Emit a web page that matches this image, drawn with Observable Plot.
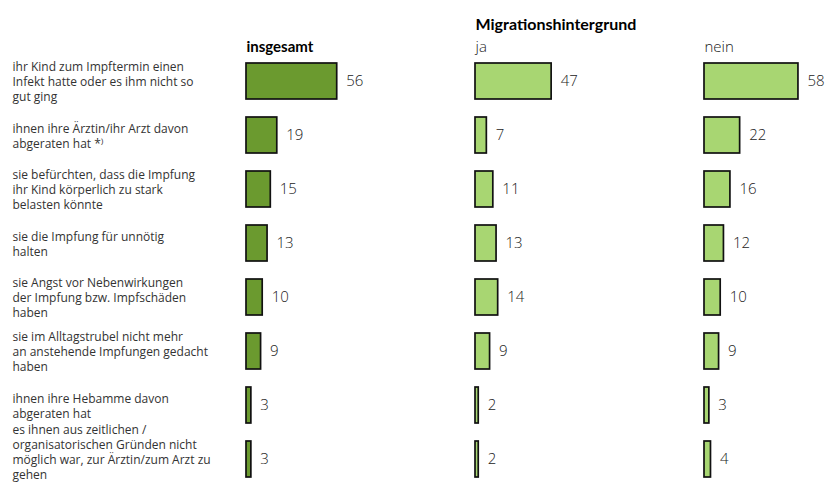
<!DOCTYPE html>
<html>
<head>
<meta charset="utf-8">
<script src="https://cdn.jsdelivr.net/npm/d3@7"></script>
<script src="https://cdn.jsdelivr.net/npm/@observablehq/plot@0.6"></script>
<style>
  html, body { margin: 0; padding: 0; background: #fff; }
  #chart { width: 825px; height: 487px; overflow: hidden; }
</style>
</head>
<body>
<div id="chart"></div>
<script>
const categories = [
  "ihr Kind zum Impftermin einen\nInfekt hatte oder es ihm nicht so\ngut ging",
  "ihnen ihre Ärztin/ihr Arzt davon\nabgeraten hat *⁾",
  "sie befürchten, dass die Impfung\nihr Kind körperlich zu stark\nbelasten könnte",
  "sie die Impfung für unnötig\nhalten",
  "sie Angst vor Nebenwirkungen\nder Impfung bzw. Impfschäden\nhaben",
  "sie im Alltagstrubel nicht mehr\nan anstehende Impfungen gedacht\nhaben",
  "ihnen ihre Hebamme davon\nabgeraten hat",
  "es ihnen aus zeitlichen /\norganisatorischen Gründen nicht\nmöglich war, zur Ärztin/zum Arzt zu\ngehen"
];
const groups = ["insgesamt", "ja", "nein"];
const insgesamt = [56, 19, 15, 13, 10, 9, 3, 3];
const ja = [47, 7, 11, 13, 14, 9, 2, 2];
const nein = [58, 22, 16, 12, 10, 9, 3, 4];
const headerTitle = "Migrationshintergrund";

const series = [insgesamt, ja, nein];
const data = categories.flatMap((c, i) => groups.map((g, j) => ({category: c, group: g, value: series[j][i]})));
const labelRows = categories.map((c, i) => ({category: c, group: groups[0], last: i === categories.length - 1}));

const chart = Plot.plot({
  width: 825,
  height: 487,
  marginTop: 54,
  marginBottom: 1,
  marginLeft: 246,
  marginRight: 0,
  style: {fontFamily: "'Open Sans', sans-serif", background: "#fff", overflow: "visible"},
  fx: {domain: groups, paddingInner: 0.472, paddingOuter: 0, axis: null, label: null},
  x: {domain: [0, 74.7], axis: null},
  y: {domain: categories, paddingInner: 1/3, paddingOuter: 1/6, axis: null},
  color: {domain: groups, range: ["#6b9a2f", "#a8d672", "#a8d672"]},
  marks: [
    Plot.barX(data, {x: "value", y: "category", fx: "group", fill: "group", stroke: "#111", strokeWidth: 1.7}),
    Plot.text(data, {x: "value", y: "category", fx: "group", text: d => String(d.value), dx: 9, textAnchor: "start", fontSize: 15, fontWeight: 300, fill: "#222"}),
    Plot.text(labelRows.filter(d => !d.last), {y: "category", fx: "group", text: "category", frameAnchor: "left", dx: -234, textAnchor: "start", lineAnchor: "middle", lineHeight: 1.25, fontSize: 12, fill: "#333"}),
    Plot.text(labelRows.filter(d => d.last), {y: "category", fx: "group", text: "category", frameAnchor: "left", dx: -234, dy: -8, textAnchor: "start", lineAnchor: "middle", lineHeight: 1.25, fontSize: 12, fill: "#333"}),
    Plot.text([{group: "insgesamt", t: "insgesamt"}], {fx: "group", text: "t", frameAnchor: "top-left", dy: -7.5, textAnchor: "start", lineAnchor: "middle", fontFamily: "Lato", fontWeight: "bold", fontSize: 15, fill: "#000"}),
    Plot.text([{group: "ja", t: "ja"}, {group: "nein", t: "nein"}], {fx: "group", text: "t", frameAnchor: "top-left", dy: -7, textAnchor: "start", lineAnchor: "middle", fontSize: 15, fontWeight: 300, fill: "#222"}),
    Plot.text([{group: "ja", t: headerTitle}], {fx: "group", text: "t", frameAnchor: "top-left", dy: -30, textAnchor: "start", lineAnchor: "middle", fontFamily: "Lato", fontWeight: "bold", fontSize: 16, fill: "#000"})
  ]
});
document.getElementById("chart").appendChild(chart);
</script>
</body>
</html>
